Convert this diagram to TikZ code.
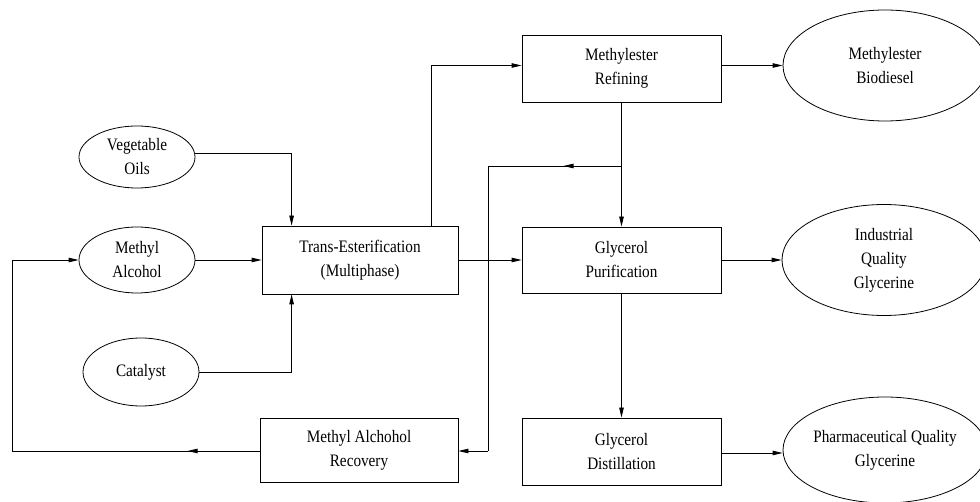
\documentclass[tikz,border=0pt]{standalone}
\usepackage{fontspec}
\setmainfont[FakeStretch=0.87]{Liberation Serif}
\usetikzlibrary{shapes.geometric,arrows.meta,calc}
\begin{document}
\begin{tikzpicture}[x=1pt,y=-1pt,
  every node/.style={font=\fontsize{17.5}{24}\selectfont, align=center, inner sep=0pt},
  boxnode/.style={draw, line width=0.8pt, minimum width=199pt, minimum height=67pt},
  ell/.style={draw, ellipse, line width=0.8pt},
  arr/.style={line width=0.8pt, -{Triangle[length=10pt,width=4.5pt]}},
  ln/.style={line width=0.8pt}]
\useasboundingbox (0,0) rectangle (980,502);
\clip (0,0) rectangle (980,502);
% left ellipses
\node[ell, minimum width=116pt, minimum height=62pt] (vo) at (137,157) {Vegetable\\Oils};
\node[ell, minimum width=116pt, minimum height=66pt] (ma) at (137,260) {Methyl\\Alcohol};
\node[ell, minimum width=116pt, minimum height=68pt] (cat) at (141,372) {Catalyst};
% boxes
\node[boxnode, minimum width=196pt, minimum height=68pt] (te) at (360,260) {Trans-Esterification\\(Multiphase)};
\node[boxnode, minimum width=198pt, minimum height=64pt] (rec) at (359,450) {Methyl Alchohol\\Recovery};
\node[boxnode] (mr) at (621.5,68.5) {Methylester\\Refining};
\node[boxnode, minimum height=66pt] (gp) at (621.5,260) {Glycerol\\Purification};
\node[boxnode] (gd) at (621.5,451.5) {Glycerol\\Distillation};
% right ellipses
\node[ell, minimum width=204pt, minimum height=111pt] (bd) at (885,65.5) {Methylester\\Biodiesel};
\node[ell, minimum width=204pt, minimum height=111pt] (ig) at (884,260) {Industrial\\Quality\\Glycerine};
\node[ell, minimum width=204pt, minimum height=106pt] (pg) at (885,450) {Pharmaceutical Quality\\Glycerine};
% coordinates
\coordinate (lp) at (12,260);
\coordinate (br) at (mr.south |- 0,166);
\coordinate (bl) at (488,166);
\coordinate (bb) at (488,451);
% connectors into trans-esterification
\draw[arr] (vo.east |- 0,153) -| ($(te.north west)+(30,0)$);
\draw[arr] (ma.east) -- (te.west);
\draw[arr] (cat.east) -| ($(te.south west)+(30,0)$);
% recovery loop
\draw[arr] (rec.west |- 0,451) -| (lp) -- (ma.west);
\draw[arr] (rec.west |- 0,451) -- ++(-72,0);
% trans to refining and purification
\draw[arr] ($(te.north east)+(-27,0)$) |- (mr.west |- bd.west);
\draw[arr] (te.east) -- (gp.west);
% vertical chain
\draw[arr] (mr.south) -- (gp.north);
\draw[arr] (gp.south) -- (gd.north);
% branch back to recovery
\draw[arr] (br) -- ($(br)+(-58,0)$);
\draw[ln] (br) -- (bl) -- (bb);
\draw[arr] (bb) -- (rec.east |- bb);
% outputs
\draw[arr] (mr.east |- bd.west) -- (bd.west);
\draw[arr] (gp.east) -- (ig.west);
\draw[arr] (gd.east |- 0,453) -- (pg.west |- 0,453);
\end{tikzpicture}
\end{document}
